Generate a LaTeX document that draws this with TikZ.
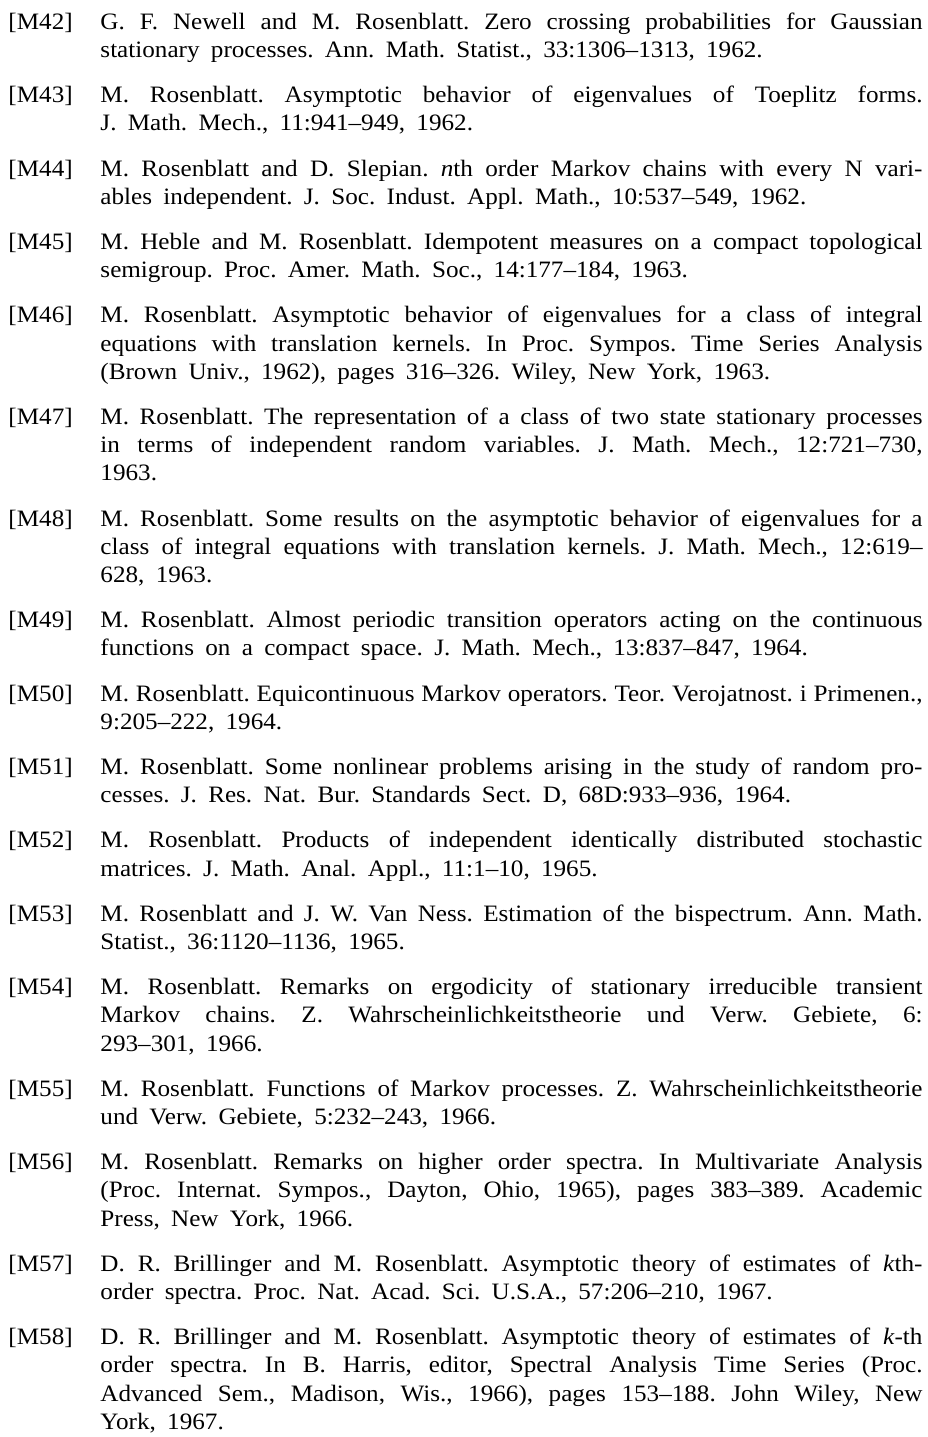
\documentclass[tikz,border=0pt]{standalone}
\usepackage{fontspec}
\setmainfont[FakeStretch=1.07,WordSpace={1.8,1.2,3.0}]{Liberation Serif}
\frenchspacing
\newlength\tw
\setlength\tw{349.8pt}
\newcommand\jl[1]{\makebox[\tw][s]{#1}}
\begin{document}
\begin{tikzpicture}[x=0.4255pt,y=-0.4255pt,
  lab/.style={anchor=base west,inner sep=0pt,font=\fontsize{10pt}{12pt}\selectfont},
  txt/.style={anchor=base west,inner sep=0pt,font=\fontsize{10pt}{12pt}\selectfont}]
\fill[white] (0,0) rectangle (928,1437);
\useasboundingbox (0,0) rectangle (928,1437);
% M42
\node[lab] (m42) at (8,29.3) {[M42]};
\node[txt] (m42a) at (100,29.3) {\jl{G. F. Newell and M. Rosenblatt. Zero crossing probabilities for Gaussian}};
\node[txt] (m42b) at (100,57.5) {stationary processes. Ann. Math. Statist., 33:1306–1313, 1962.};
% M43
\node[lab] (m43) at (8,102.7) {[M43]};
\node[txt] (m43a) at (100,102.7) {\jl{M. Rosenblatt. Asymptotic behavior of eigenvalues of Toeplitz forms.}};
\node[txt] (m43b) at (100,130.9) {J. Math. Mech., 11:941–949, 1962.};
% M44
\node[lab] (m44) at (8,176.1) {[M44]};
\node[txt] (m44a) at (100,176.1) {\jl{M. Rosenblatt and D. Slepian. \textit{n}th order Markov chains with every N vari-}};
\node[txt] (m44b) at (100,204.3) {ables independent. J. Soc. Indust. Appl. Math., 10:537–549, 1962.};
% M45
\node[lab] (m45) at (8,249.5) {[M45]};
\node[txt] (m45a) at (100,249.5) {\jl{M. Heble and M. Rosenblatt. Idempotent measures on a compact topological}};
\node[txt] (m45b) at (100,277.7) {semigroup. Proc. Amer. Math. Soc., 14:177–184, 1963.};
% M46
\node[lab] (m46) at (8,322.9) {[M46]};
\node[txt] (m46a) at (100,322.9) {\jl{M. Rosenblatt. Asymptotic behavior of eigenvalues for a class of integral}};
\node[txt] (m46b) at (100,351.1) {\jl{equations with translation kernels. In Proc. Sympos. Time Series Analysis}};
\node[txt] (m46c) at (100,379.3) {(Brown Univ., 1962), pages 316–326. Wiley, New York, 1963.};
% M47
\node[lab] (m47) at (8,424.5) {[M47]};
\node[txt] (m47a) at (100,424.5) {\jl{M. Rosenblatt. The representation of a class of two state stationary processes}};
\node[txt] (m47b) at (100,452.7) {\jl{in terms of independent random variables. J. Math. Mech., 12:721–730,}};
\node[txt] (m47c) at (100,480.9) {1963.};
% M48
\node[lab] (m48) at (8,526.1) {[M48]};
\node[txt] (m48a) at (100,526.1) {\jl{M. Rosenblatt. Some results on the asymptotic behavior of eigenvalues for a}};
\node[txt] (m48b) at (100,554.3) {\jl{class of integral equations with translation kernels. J. Math. Mech., 12:619–}};
\node[txt] (m48c) at (100,582.5) {628, 1963.};
% M49
\node[lab] (m49) at (8,627.7) {[M49]};
\node[txt] (m49a) at (100,627.7) {\jl{M. Rosenblatt. Almost periodic transition operators acting on the continuous}};
\node[txt] (m49b) at (100,655.9) {functions on a compact space. J. Math. Mech., 13:837–847, 1964.};
% M50
\node[lab] (m50) at (8,701.1) {[M50]};
\node[txt] (m50a) at (100,701.1) {\jl{M. Rosenblatt. Equicontinuous Markov operators. Teor. Verojatnost. i Primenen.,}};
\node[txt] (m50b) at (100,729.3) {9:205–222, 1964.};
% M51
\node[lab] (m51) at (8,774.5) {[M51]};
\node[txt] (m51a) at (100,774.5) {\jl{M. Rosenblatt. Some nonlinear problems arising in the study of random pro-}};
\node[txt] (m51b) at (100,802.7) {cesses. J. Res. Nat. Bur. Standards Sect. D, 68D:933–936, 1964.};
% M52
\node[lab] (m52) at (8,847.9) {[M52]};
\node[txt] (m52a) at (100,847.9) {\jl{M. Rosenblatt. Products of independent identically distributed stochastic}};
\node[txt] (m52b) at (100,876.1) {matrices. J. Math. Anal. Appl., 11:1–10, 1965.};
% M53
\node[lab] (m53) at (8,921.3) {[M53]};
\node[txt] (m53a) at (100,921.3) {\jl{M. Rosenblatt and J. W. Van Ness. Estimation of the bispectrum. Ann. Math.}};
\node[txt] (m53b) at (100,949.5) {Statist., 36:1120–1136, 1965.};
% M54
\node[lab] (m54) at (8,994.7) {[M54]};
\node[txt] (m54a) at (100,994.7) {\jl{M. Rosenblatt. Remarks on ergodicity of stationary irreducible transient}};
\node[txt] (m54b) at (100,1022.9) {\jl{Markov chains. Z. Wahrscheinlichkeitstheorie und Verw. Gebiete, 6:}};
\node[txt] (m54c) at (100,1051.1) {293–301, 1966.};
% M55
\node[lab] (m55) at (8,1096.3) {[M55]};
\node[txt] (m55a) at (100,1096.3) {\jl{M. Rosenblatt. Functions of Markov processes. Z. Wahrscheinlichkeitstheorie}};
\node[txt] (m55b) at (100,1124.5) {und Verw. Gebiete, 5:232–243, 1966.};
% M56
\node[lab] (m56) at (8,1169.7) {[M56]};
\node[txt] (m56a) at (100,1169.7) {\jl{M. Rosenblatt. Remarks on higher order spectra. In Multivariate Analysis}};
\node[txt] (m56b) at (100,1197.9) {\jl{(Proc. Internat. Sympos., Dayton, Ohio, 1965), pages 383–389. Academic}};
\node[txt] (m56c) at (100,1226.1) {Press, New York, 1966.};
% M57
\node[lab] (m57) at (8,1271.3) {[M57]};
\node[txt] (m57a) at (100,1271.3) {\jl{D. R. Brillinger and M. Rosenblatt. Asymptotic theory of estimates of \textit{k}th-}};
\node[txt] (m57b) at (100,1299.5) {order spectra. Proc. Nat. Acad. Sci. U.S.A., 57:206–210, 1967.};
% M58
\node[lab] (m58) at (8,1344.7) {[M58]};
\node[txt] (m58a) at (100,1344.7) {\jl{D. R. Brillinger and M. Rosenblatt. Asymptotic theory of estimates of \textit{k}-th}};
\node[txt] (m58b) at (100,1372.9) {\jl{order spectra. In B. Harris, editor, Spectral Analysis Time Series (Proc.}};
\node[txt] (m58c) at (100,1401.1) {\jl{Advanced Sem., Madison, Wis., 1966), pages 153–188. John Wiley, New}};
\node[txt] (m58d) at (100,1429.3) {York, 1967.};
\end{tikzpicture}
\end{document}
